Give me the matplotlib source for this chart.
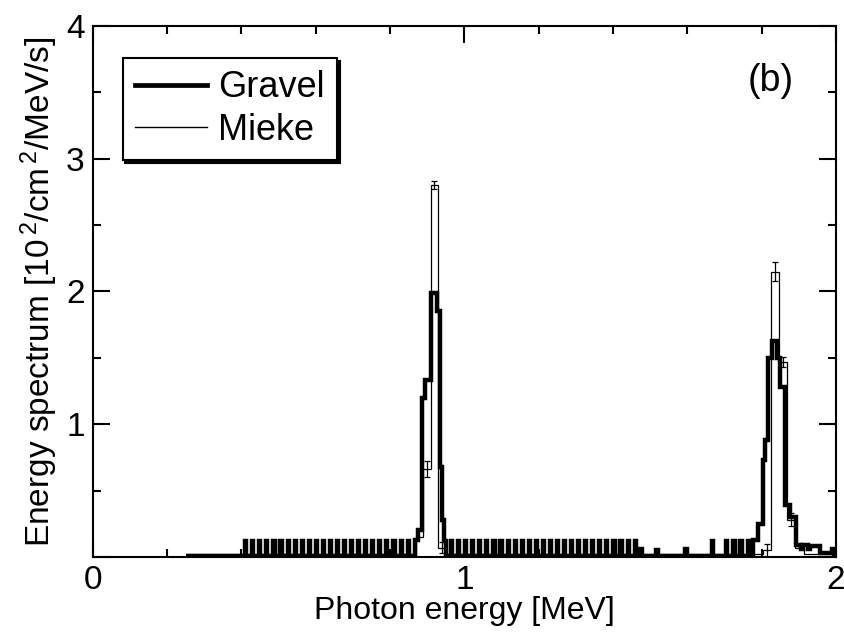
import numpy as np
import matplotlib
matplotlib.use('Agg')
import matplotlib.pyplot as plt
from matplotlib.ticker import MultipleLocator
from matplotlib.lines import Line2D

plt.rcParams['font.family'] = ['Liberation Sans', 'DejaVu Sans']
plt.rcParams['mathtext.fontset'] = 'custom'
plt.rcParams['mathtext.rm'] = 'Liberation Sans'
plt.rcParams['mathtext.default'] = 'regular'

# Gravel: thin noise spikes (positions in MeV) on a low baseline
gravel_base = 0.01
spike_h = 0.12
spike_w = 0.003
comb1 = [0.410, 0.429, 0.448, 0.467, 0.486, 0.505, 0.524, 0.543, 0.562, 0.581,
         0.600, 0.619, 0.638, 0.657, 0.676, 0.695, 0.714, 0.733, 0.752, 0.771,
         0.790, 0.809, 0.828, 0.847]
comb2 = [0.964, 0.983, 1.002, 1.021, 1.040, 1.059, 1.078, 1.097, 1.116, 1.135,
         1.154, 1.173, 1.192, 1.211, 1.230, 1.249, 1.268, 1.287, 1.306, 1.325,
         1.344, 1.363, 1.382, 1.401, 1.420, 1.439, 1.458]
comb3 = [1.665, 1.705, 1.724, 1.743, 1.762]

# Gravel: peaks and small bumps (bin edges, values)
g_peak1_edges = [0.866, 0.876, 0.886, 0.893, 0.909, 0.927, 0.933, 0.939, 0.945, 0.951]
g_peak1_vals = [0.13, 0.20, 1.20, 1.33, 1.99, 1.85, 0.68, 0.28, 0.12]
g_bumps = [(1.468, 1.478, 0.06), (1.515, 1.520, 0.05), (1.595, 1.600, 0.06)]
g_peak2_edges = [1.776, 1.790, 1.803, 1.810, 1.817, 1.828, 1.842, 1.850, 1.862,
                 1.876, 1.892, 1.905, 1.910, 1.925, 1.930, 1.957, 1.990, 1.996]
g_peak2_vals = [0.13, 0.25, 0.73, 0.88, 1.50, 1.63, 1.50, 1.28, 0.39,
                0.30, 0.09, 0.06, 0.09, 0.06, 0.08, 0.03, 0.06]
g_start, g_end = 0.25, 2.0

# Mieke: coarser bins with errors
m_edges = [0.25, 0.869, 0.889, 0.909, 0.929, 0.949, 1.803, 1.825, 1.847, 1.869, 1.891, 1.913, 2.0]
m_vals = [0.02, 0.15, 0.66, 2.80, 0.07, 0.02, 0.05, 2.15, 1.47, 0.28, 0.07, 0.02]
m_err_x = [0.899, 0.919, 0.939, 1.814, 1.836, 1.858, 1.880]
m_err_y = [0.66, 2.80, 0.07, 0.05, 2.15, 1.47, 0.28]
m_err = [0.06, 0.03, 0.04, 0.05, 0.07, 0.04, 0.05]

# build the Gravel step curve from the pieces
segs = [(s, s + spike_w, spike_h) for s in comb1 + comb2 + comb3]
segs += list(zip(g_peak1_edges[:-1], g_peak1_edges[1:], g_peak1_vals))
segs += g_bumps
segs += list(zip(g_peak2_edges[:-1], g_peak2_edges[1:], g_peak2_vals))
segs.sort()
g_edges, g_vals = [g_start], []
x = g_start
for a, b, v in segs:
    if a > x:
        g_vals.append(gravel_base)
        g_edges.append(a)
    g_vals.append(v)
    g_edges.append(b)
    x = b
if x < g_end:
    g_vals.append(gravel_base)
    g_edges.append(g_end)

fig = plt.figure(figsize=(8.44, 6.34), dpi=100)
ax = fig.add_axes([0.110, 0.1215, 0.8805, 0.8375])

ax.stairs(m_vals, m_edges, baseline=None, color='black', lw=0.9, zorder=2)
ax.errorbar(m_err_x, m_err_y, yerr=m_err, fmt='none', ecolor='black', elinewidth=0.9,
            capsize=2.5, capthick=0.9, zorder=2)
ax.stairs(g_vals, g_edges, baseline=None, color='black', lw=3.2, zorder=3)

ax.set_xlim(0, 2)
ax.set_ylim(0, 4)
ax.set_xticks([0, 1, 2])
ax.set_yticks([0, 1, 2, 3, 4])
ax.set_yticklabels(['', '1', '2', '3', '4'])
ax.xaxis.set_minor_locator(MultipleLocator(0.2))
ax.yaxis.set_minor_locator(MultipleLocator(0.5))
ax.tick_params(which='both', direction='in', top=True, right=True, width=1.5,
               labelsize=24, color='black')
ax.tick_params(which='major', length=12, pad=6)
ax.tick_params(which='minor', length=6)
for sp in ax.spines.values():
    sp.set_linewidth(1.5)

ax.set_xlabel('Photon energy [MeV]', fontsize=23, labelpad=0)
ax.set_ylabel(r'Energy spectrum [10$^{\,2}$/cm$^{\,2}$/MeV/s]', fontsize=24, labelpad=4)

ax.text(0.912, 0.897, '(b)', transform=ax.transAxes, fontsize=27, ha='center', va='center')

handles = [Line2D([], [], color='black', lw=3.4), Line2D([], [], color='black', lw=1.0)]
leg = ax.legend(handles, ['Gravel', 'Mieke'], loc='upper left', bbox_to_anchor=(0.040, 0.94),
                borderaxespad=0, fontsize=26, frameon=True, fancybox=False,
                shadow={'color': 'black', 'alpha': 1}, handlelength=2.0,
                handletextpad=0.3, labelspacing=0.2, borderpad=0.35)
leg.get_frame().set_edgecolor('black')
leg.get_frame().set_linewidth(1.5)

fig.savefig('out.png', dpi=100)
